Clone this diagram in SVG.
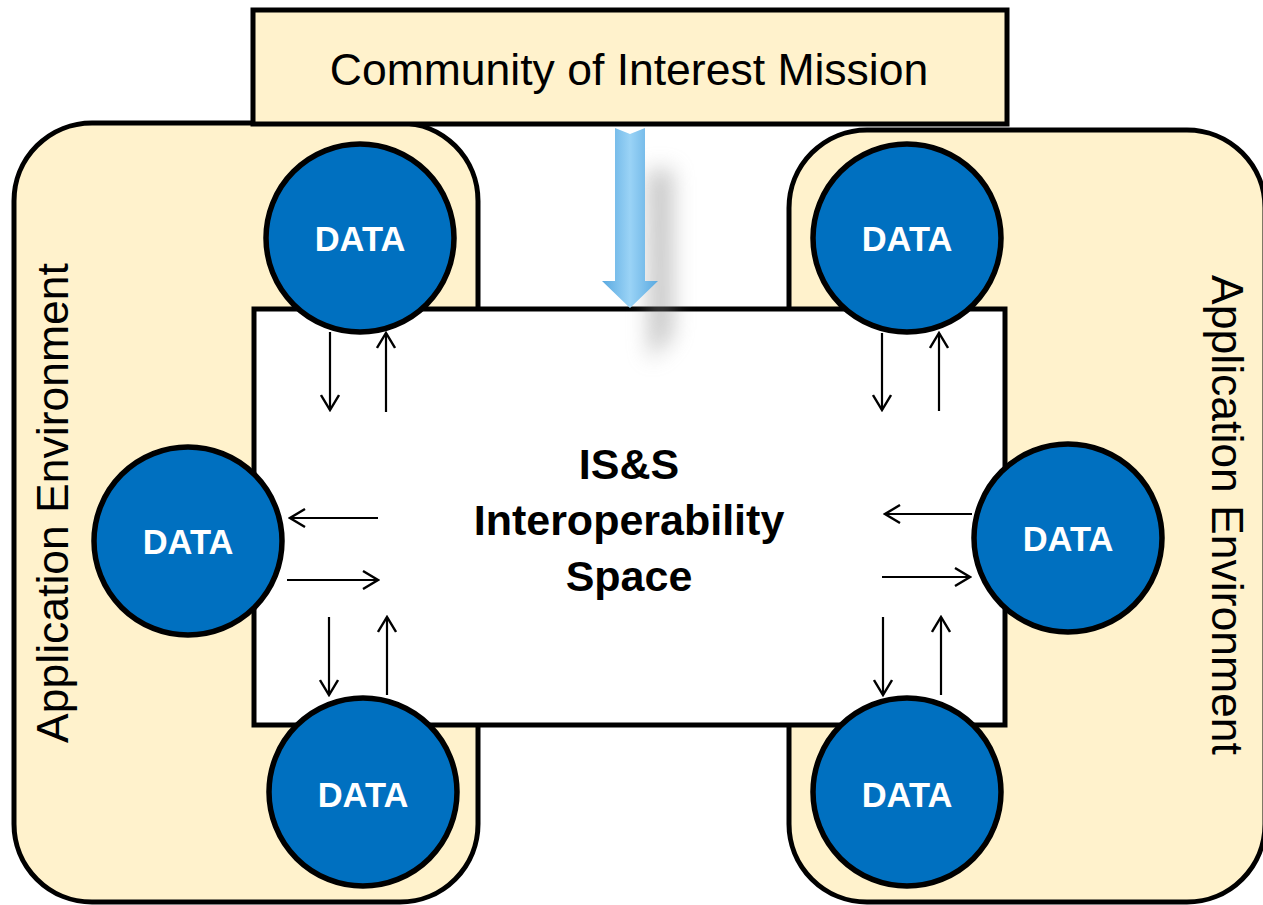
<svg xmlns="http://www.w3.org/2000/svg" width="1263" height="905" viewBox="0 0 1263 905">
<style>
.env{fill:#FFF2CC;stroke:#000;stroke-width:5}
.data{fill:#0070C0;stroke:#000;stroke-width:5.5}
.dt{fill:#fff;font-family:"Liberation Sans",Arial,sans-serif;font-weight:bold;font-size:34.5px;text-anchor:middle}
.lbl{fill:#000;font-family:"Liberation Sans",Arial,sans-serif;font-size:44.5px;text-anchor:middle}
.ctr{fill:#000;font-family:"Liberation Sans",Arial,sans-serif;font-weight:bold;font-size:43px;text-anchor:middle}
.ar{stroke:#000;stroke-width:2.2;fill:none;marker-end:url(#open)}
</style>
<defs>
<marker id="open" viewBox="0 0 20 20" refX="18" refY="10" markerWidth="20" markerHeight="20" markerUnits="userSpaceOnUse" orient="auto">
<path d="M3,1 L18,10 L3,19" fill="none" stroke="#000" stroke-width="2.4"/>
</marker>
<linearGradient id="blue" x1="0" y1="0" x2="1" y2="0">
<stop offset="0" stop-color="#5AA9E0"/>
<stop offset="0.5" stop-color="#9AD3F6"/>
<stop offset="1" stop-color="#5AA9E0"/>
</linearGradient>
<filter id="blur" x="-150%" y="-50%" width="400%" height="200%">
<feGaussianBlur stdDeviation="11"/>
</filter>
</defs>
<g id="env-left"><rect class="env" x="14" y="123" width="464" height="779" rx="78"/>
<text class="lbl" transform="translate(68,503) rotate(-90)">Application Environment</text></g>
<g id="env-right"><rect class="env" x="789" y="130" width="476" height="772" rx="78"/>
<text class="lbl" transform="translate(1212,515) rotate(90)">Application Environment</text></g>
<g id="mission"><rect x="253" y="10" width="754" height="114" fill="#FFF2CC" stroke="#000" stroke-width="5"/>
<text class="lbl" x="629" y="85">Community of Interest Mission</text></g>
<g id="space"><rect x="254" y="309" width="751" height="416" fill="#fff" stroke="#000" stroke-width="5"/>
<text class="ctr" x="629" y="479">IS&amp;S</text>
<text class="ctr" x="629" y="535">Interoperability</text>
<text class="ctr" x="629" y="591">Space</text></g>
<g id="mission-arrow">
<path d="M648,170 L672,170 L672,335 L650,360 Z" fill="#888" opacity="0.5" filter="url(#blur)"/>
<path d="M615,128 L630,134 L645,128 L645,281 L658,281 L630,308 L602,281 L615,281 Z" fill="url(#blue)"/>
</g>
<g id="data-tl"><circle class="data" cx="360" cy="238" r="94"/><text class="dt" x="360" y="251">DATA</text></g>
<g id="data-tr"><circle class="data" cx="907" cy="238" r="94"/><text class="dt" x="907" y="251">DATA</text></g>
<g id="data-ml"><circle class="data" cx="188" cy="541" r="94"/><text class="dt" x="188" y="554">DATA</text></g>
<g id="data-mr"><circle class="data" cx="1068" cy="538" r="94"/><text class="dt" x="1068" y="551">DATA</text></g>
<g id="data-bl"><circle class="data" cx="363" cy="792" r="94"/><text class="dt" x="363" y="807">DATA</text></g>
<g id="data-br"><circle class="data" cx="907" cy="792" r="94"/><text class="dt" x="907" y="807">DATA</text></g>
<g id="connectors">
<line class="ar" x1="330" y1="332" x2="330" y2="410"/>
<line class="ar" x1="386" y1="412" x2="386" y2="333"/>
<line class="ar" x1="378" y1="518" x2="290" y2="518"/>
<line class="ar" x1="287" y1="580" x2="378" y2="580"/>
<line class="ar" x1="329" y1="617" x2="329" y2="695"/>
<line class="ar" x1="387" y1="695" x2="387" y2="617"/>
<line class="ar" x1="882" y1="333" x2="882" y2="410"/>
<line class="ar" x1="939" y1="411" x2="939" y2="333"/>
<line class="ar" x1="972" y1="514" x2="885" y2="514"/>
<line class="ar" x1="882" y1="577" x2="970" y2="577"/>
<line class="ar" x1="883" y1="617" x2="883" y2="695"/>
<line class="ar" x1="941" y1="695" x2="941" y2="617"/>
</g>
</svg>
